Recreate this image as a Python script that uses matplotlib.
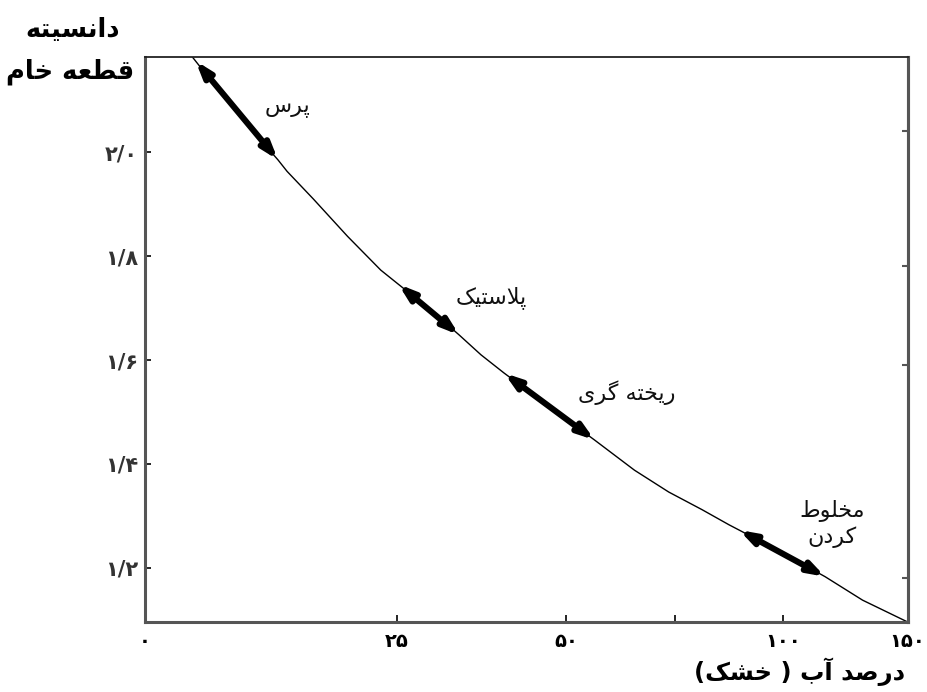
import re
import matplotlib
matplotlib.use('Agg')
import matplotlib.pyplot as plt
import numpy as np

# -----------------------data-----------------------
# water content (% dry basis) vs. green body density
water = [4.7, 8.7, 13.2, 14.1, 16.7, 20.1, 23.4, 25.2, 30.0, 34.2, 37.4, 40.8, 47.5, 56.5,
         65.7, 73.6, 81.3, 87.5, 89.8, 99.8, 116.9, 131.9, 150.0]
density = [2.183, 2.085, 1.985, 1.963, 1.910, 1.838, 1.773, 1.746, 1.696, 1.648, 1.610, 1.575, 1.510, 1.446,
           1.388, 1.346, 1.312, 1.283, 1.273, 1.229, 1.183, 1.138, 1.096]

# forming-process ranges (start / end on the curve)
proc_names = ['پرس', 'پلاستیک', 'ریخته گری', 'مخلوط\nکردن']
proc_w0 = [5.0, 25.2, 40.8, 89.8]
proc_d0 = [2.176, 1.746, 1.575, 1.273]
proc_w1 = [13.2, 34.2, 56.5, 116.9]
proc_d1 = [1.985, 1.648, 1.446, 1.183]
proc_label_w = [14.1, 38.9, 63.9, 119.8]
proc_label_d = [2.085, 1.721, 1.538, 1.285]

x_ticks = [0, 25, 50, 75, 100, 150]
x_tick_labels = ['۰', '۲۵', '۵۰', '', '۱۰۰', '۱۵۰']
y_ticks = [1.2, 1.4, 1.6, 1.8, 2.0]
y_tick_labels = ['۱/۲', '۱/۴', '۱/۶', '۱/۸', '۲/۰']
y_ticks_right = [1.18, 1.59, 1.78, 2.04]

x_label = 'درصد آب ( خشک)'
y_label = 'دانسیته\nقطعه خام'

# -----------------------minimal persian shaping-----------------------
FORMS = {
    'ا': ('\uFE8D', '\uFE8E', None, None),
    'آ': ('\uFE81', '\uFE82', None, None),
    'ب': ('\uFE8F', '\uFE90', '\uFE91', '\uFE92'),
    'پ': ('\uFB56', '\uFB57', '\uFB58', '\uFB59'),
    'ت': ('\uFE95', '\uFE96', '\uFE97', '\uFE98'),
    'خ': ('\uFEA5', '\uFEA6', '\uFEA7', '\uFEA8'),
    'د': ('\uFEA9', '\uFEAA', None, None),
    'ر': ('\uFEAD', '\uFEAE', None, None),
    'س': ('\uFEB1', '\uFEB2', '\uFEB3', '\uFEB4'),
    'ش': ('\uFEB5', '\uFEB6', '\uFEB7', '\uFEB8'),
    'ص': ('\uFEB9', '\uFEBA', '\uFEBB', '\uFEBC'),
    'ط': ('\uFEC1', '\uFEC2', '\uFEC3', '\uFEC4'),
    'ع': ('\uFEC9', '\uFECA', '\uFECB', '\uFECC'),
    'ق': ('\uFED5', '\uFED6', '\uFED7', '\uFED8'),
    'ک': ('\uFB8E', '\uFB8F', '\uFB90', '\uFB91'),
    'گ': ('\uFB92', '\uFB93', '\uFB94', '\uFB95'),
    'ل': ('\uFEDD', '\uFEDE', '\uFEDF', '\uFEE0'),
    'م': ('\uFEE1', '\uFEE2', '\uFEE3', '\uFEE4'),
    'ن': ('\uFEE5', '\uFEE6', '\uFEE7', '\uFEE8'),
    'ه': ('\uFEE9', '\uFEEA', '\uFEEB', '\uFEEC'),
    'و': ('\uFEED', '\uFEEE', None, None),
    'ی': ('\uFBFC', '\uFBFD', '\uFBFE', '\uFBFF'),
    '\uFEFB': ('\uFEFB', '\uFEFC', None, None),  # lam-alef
}
MIRROR = {'(': ')', ')': '('}


def shape(text):
    w = text.replace('لا', '\uFEFB')
    out = []
    for i, c in enumerate(w):
        if c not in FORMS:
            out.append(c)
            continue
        iso, fin, ini, med = FORMS[c]
        prev = w[i - 1] if i > 0 else ''
        nxt = w[i + 1] if i + 1 < len(w) else ''
        jp = prev in FORMS and FORMS[prev][2] is not None
        jn = ini is not None and nxt in FORMS
        if jp and jn:
            out.append(med)
        elif jp:
            out.append(fin)
        elif jn:
            out.append(ini)
        else:
            out.append(iso)
    return ''.join(out)


def fa(text):
    # right-to-left line: shape, reverse, mirror brackets
    return '\n'.join(''.join(MIRROR.get(c, c) for c in shape(line)[::-1])
                     for line in text.split('\n'))


# -----------------------figure-----------------------
plt.rcParams['font.family'] = 'DejaVu Sans'
fig = plt.figure(figsize=(9.28, 6.92), dpi=100)
ax = fig.add_axes([0.1563, 0.1012, 0.8217, 0.8164])

# uneven x scale of the original drawing
tick_pos = [0, 251, 420, 528, 636, 760]
fwd = lambda x: np.interp(x, x_ticks, tick_pos)
inv = lambda p: np.interp(p, tick_pos, x_ticks)
ax.set_xscale('function', functions=(fwd, inv))
ax.set_xlim(0, 150)
ax.set_ylim(1.096, 2.183)

ax.plot(water, density, color='black', lw=1.0)

for w0, d0, w1, d1 in zip(proc_w0, proc_d0, proc_w1, proc_d1):
    ax.annotate('', xy=(w1, d1), xytext=(w0, d0),
                arrowprops=dict(arrowstyle='<|-|>,head_length=0.9,head_width=0.3',
                                color='black', lw=4.4, shrinkA=0, shrinkB=0))

for name, lx, ly in zip(proc_names, proc_label_w, proc_label_d):
    ax.text(lx, ly, fa(name), fontsize=16, ha='center', va='center',
            multialignment='center', linespacing=1.25, color='#111111')

ax.set_xticks(x_ticks)
ax.set_xticklabels(x_tick_labels, fontsize=14, fontweight='bold')
ax.set_yticks(y_ticks)
ax.set_yticklabels(y_tick_labels, fontsize=15, fontweight='bold', color='#333333')
ax.tick_params(axis='x', direction='in', length=5, width=1.2, pad=7)
ax.tick_params(axis='y', direction='in', length=4, width=1.2, pad=5)

sec = ax.secondary_yaxis('right')
sec.set_yticks(y_ticks_right)
sec.set_yticklabels([])
sec.tick_params(direction='in', length=4, width=1.5, color='#555555')
sec.spines['right'].set_color('#555555')
sec.spines['right'].set_linewidth(2.2)

for side in ['left', 'bottom', 'right']:
    ax.spines[side].set_color('#555555')
    ax.spines[side].set_linewidth(2.2)
ax.spines['top'].set_color('#222222')
ax.spines['top'].set_linewidth(1.3)

# axis titles
title_lines = y_label.split('\n')
fig.text(0.078, 0.956, fa(title_lines[0]), fontsize=18.5, fontweight='bold', ha='center', va='center')
fig.text(0.076, 0.896, fa(title_lines[1]), fontsize=18.5, fontweight='bold', ha='center', va='center')
fig.text(0.862, 0.029, fa(x_label), fontsize=17.5, fontweight='bold', ha='center', va='center')

fig.savefig('out.png', dpi=100)
